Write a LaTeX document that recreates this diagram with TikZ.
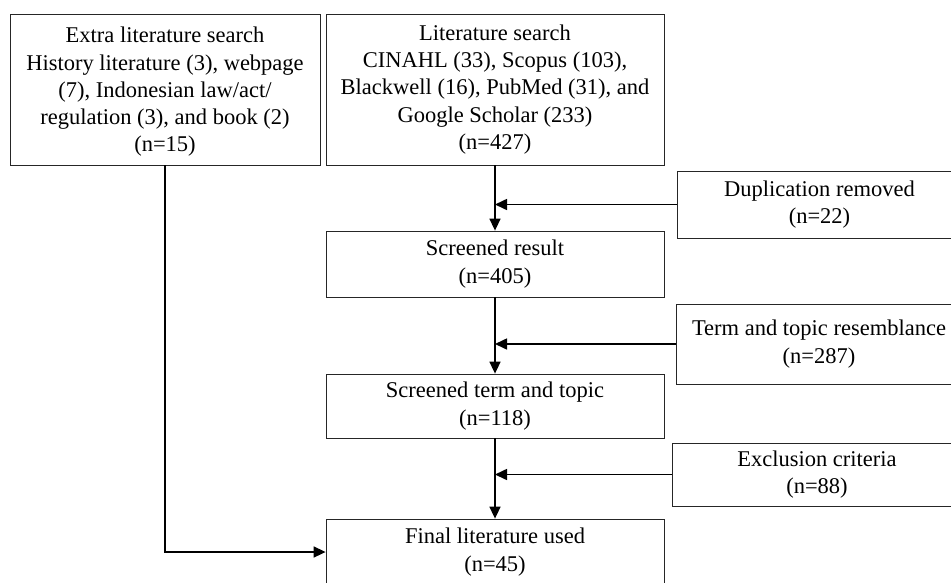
\documentclass[tikz,border=0pt]{standalone}
\usepackage{fontspec}
\setmainfont{Liberation Serif}
\usepackage{tikz}
\usetikzlibrary{arrows.meta,calc}

\tikzset{
	box/.style={draw=black!85,line width=0.8pt,align=center,inner sep=0pt,
		font=\fontsize{22.5}{27.2}\selectfont},
	arr/.style={line width=1.6pt,-{Triangle[length=12pt,width=11pt]}}
}

\begin{document}
\begin{tikzpicture}[x=1pt,y=-1pt]
		\useasboundingbox (0,0) rectangle (951,582);
		\coordinate (E) at (165,89.5);
		\coordinate (L) at (495,89.5);
		\coordinate (S1) at (495,264);
		\coordinate (S2) at (495,406);
		\coordinate (F) at (495,552);
		\coordinate (D) at (819.5,204.5);
		\coordinate (T) at (819,344);
		\coordinate (X) at (817,474.5);
		\node[box,minimum width=310pt,minimum height=151pt,text depth=0pt] (extra) at (E)
			{Extra literature search\\History literature (3), webpage\\(7), Indonesian law/act/\\regulation (3), and book (2)\\(n=15)};
		\node[box,minimum width=338pt,minimum height=151pt] (search) at (L)
			{Literature search\\CINAHL (33), Scopus (103),\\Blackwell (16), PubMed (31), and\\Google Scholar (233)\\(n=427)};
		\node[box,minimum width=338pt,minimum height=66pt] (screen) at (S1)
			{Screened result\\(n=405)};
		\node[box,minimum width=338pt,minimum height=64pt] (term) at (S2)
			{Screened term and topic\\(n=118)};
		\node[box,minimum width=338pt,minimum height=66pt] (final) at (F)
			{Final literature used\\(n=45)};
		\node[box,minimum width=285pt,minimum height=67pt] (dup) at (D)
			{Duplication removed\\(n=22)};
		\node[box,minimum width=286pt,minimum height=80pt] (resemb) at (T)
			{Term and topic resemblance\\(n=287)};
		\node[box,minimum width=290pt,minimum height=63pt] (excl) at (X)
			{Exclusion criteria\\(n=88)};
		\draw[arr] (search.south) -- (screen.north);
		\draw[arr] (screen.south) -- (term.north);
		\draw[arr] (term.south) -- (final.north);
		\draw[arr] (dup.west) -- (dup.west -| search.south);
		\draw[arr] (resemb.west) -- (resemb.west -| search.south);
		\draw[arr] (excl.west) -- (excl.west -| search.south);
		\draw[arr] (extra.south) |- (final.west);
	\end{tikzpicture}
\end{document}
